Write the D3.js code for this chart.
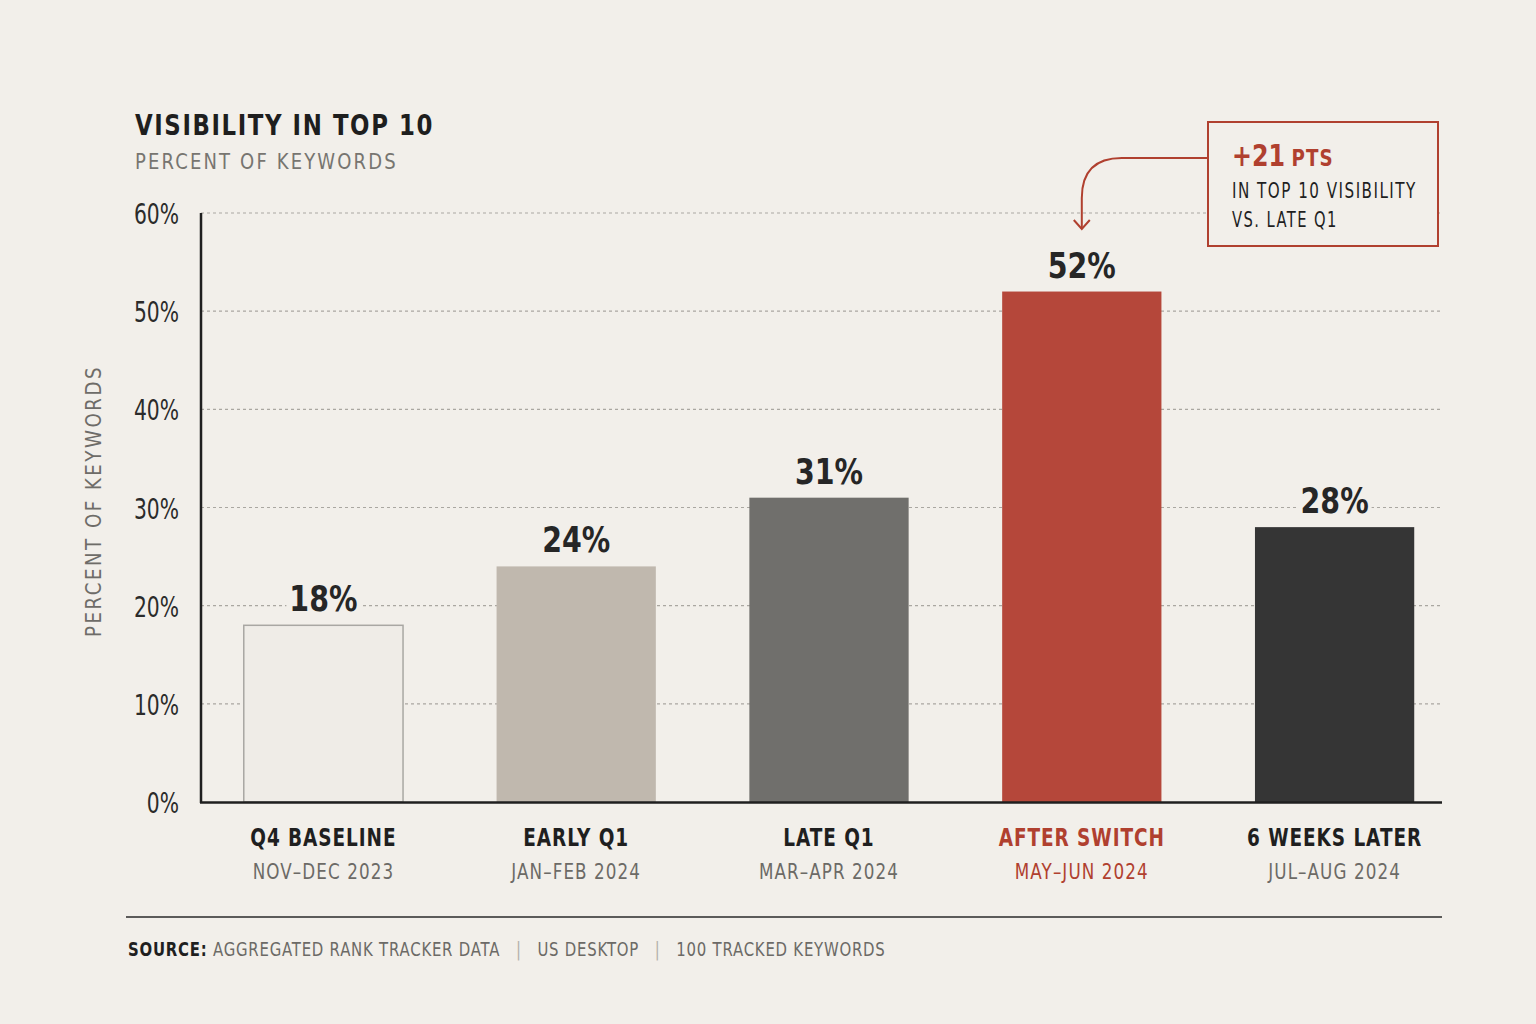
<!DOCTYPE html>
<html>
<head>
<meta charset="utf-8">
<script src="https://cdn.jsdelivr.net/npm/d3@7"></script>
<style>
  html, body { margin: 0; padding: 0; background: #f2efea; }
  svg { display: block; }
  text { font-family: "DejaVu Sans", sans-serif; }
</style>
</head>
<body>
<div id="chart"></div>
<script>
// data
let categories = ['Q4 BASELINE', 'EARLY Q1', 'LATE Q1', 'AFTER SWITCH', '6 WEEKS LATER']
let periods = ['NOV–DEC 2023', 'JAN–FEB 2024', 'MAR–APR 2024', 'MAY–JUN 2024', 'JUL–AUG 2024']
let values = [18, 24, 31, 52, 28]
let yTicks = [0, 10, 20, 30, 40, 50, 60]
let barColors = ['#efece7', '#c0b8ae', '#706f6c', '#b5473a', '#353535']
let highlight = 'AFTER SWITCH'

let bg = '#f2efea'
let red = '#b0402f'

// no condensed face is installed, so squeeze text horizontally
let squeeze = (sel, x, y, sx) => {
  sel.attr('x', 0).attr('y', 0)
    .attr('transform', `translate(${x},${y}) scale(${sx},1)`)
  return sel
}

// squeeze a single text so it spans a given width
let fitWidth = (sel, x, y, w) => {
  sel.attr('x', 0).attr('y', 0)
  let len = sel.node().getBBox().width
  return squeeze(sel, x, y, w / len)
}

let svg = d3.select('#chart')
  .append('svg')
  .attr('width', 1536)
  .attr('height', 1024)

svg.append('rect')
  .attr('width', 1536)
  .attr('height', 1024)
  .attr('fill', bg)

let x = d3.scaleBand()
  .domain(categories)
  .range([197, 1461])
  .paddingInner(0.37)
  .paddingOuter(0.185)

let y = d3.scaleLinear()
  .domain([0, 60])
  .range([802, 213])

// title
let title = svg.append('text')
  .attr('font-size', 29).attr('font-weight', 700)
  .attr('letter-spacing', 2)
  .attr('fill', '#1e1e1e')
  .text('VISIBILITY IN TOP 10')
fitWidth(title, 135, 135, 299)

let sub = svg.append('text')
  .attr('font-size', 21)
  .attr('letter-spacing', 2.5)
  .attr('fill', '#777570')
  .text('PERCENT OF KEYWORDS')
fitWidth(sub, 135, 169, 263)

// y axis title
let yTitle = svg.append('text')
  .attr('text-anchor', 'middle')
  .attr('font-size', 22)
  .attr('letter-spacing', 3)
  .attr('fill', '#6e6c68')
  .text('PERCENT OF KEYWORDS')
let yLen = yTitle.node().getBBox().width
yTitle.attr('transform', `translate(101,501) rotate(-90) scale(${272 / yLen},1)`)

// gridlines
svg.append('g')
  .selectAll('line')
  .data(yTicks.filter(d => d > 0))
  .enter()
  .append('line')
  .attr('x1', 201)
  .attr('x2', 1442)
  .attr('y1', d => y(d))
  .attr('y2', d => y(d))
  .attr('stroke', '#aaa7a1')
  .attr('stroke-width', 1.2)
  .attr('stroke-dasharray', '3,3')

// y tick labels
svg.append('g')
  .selectAll('text')
  .data(yTicks)
  .enter()
  .append('text')
  .attr('text-anchor', 'end')
  .attr('font-size', 29)
  .attr('fill', '#2b2b2b')
  .text(d => d + '%')
  .each(function (d) { squeeze(d3.select(this), 179, y(d) + 11, 0.7) })

// bars
svg.append('g')
  .selectAll('rect')
  .data(values)
  .enter()
  .append('rect')
  .attr('x', (d, i) => x(categories[i]))
  .attr('y', d => y(d))
  .attr('width', x.bandwidth())
  .attr('height', d => y(0) - y(d))
  .attr('fill', (d, i) => barColors[i])
  .attr('stroke', (d, i) => i === 0 ? '#a9a7a3' : 'none')
  .attr('stroke-width', 1.5)

// value labels with background knockout
let labels = svg.append('g')
  .selectAll('g')
  .data(values)
  .enter()
  .append('g')
  .attr('transform', (d, i) => `translate(${x(categories[i]) + x.bandwidth() / 2},${y(d) - 14})`)

labels.append('rect')
  .attr('x', -37).attr('y', -31)
  .attr('width', 74).attr('height', 36)
  .attr('fill', bg)

labels.append('text')
  .attr('text-anchor', 'middle')
  .attr('font-size', 36)
  .attr('font-weight', 700)
  .attr('fill', '#262626')
  .text(d => d + '%')
  .each(function () { squeeze(d3.select(this), 0, 0, 0.79) })

// axes lines
svg.append('line')
  .attr('x1', 201).attr('x2', 201)
  .attr('y1', 213).attr('y2', 803)
  .attr('stroke', '#1f1f1f').attr('stroke-width', 2.5)

svg.append('line')
  .attr('x1', 200).attr('x2', 1442)
  .attr('y1', 802.5).attr('y2', 802.5)
  .attr('stroke', '#1f1f1f').attr('stroke-width', 2.5)

// category labels
let cats = svg.append('g')
  .selectAll('g')
  .data(categories)
  .enter()
  .append('g')
  .attr('transform', d => `translate(${x(d) + x.bandwidth() / 2},0)`)

cats.append('text')
  .attr('text-anchor', 'middle')
  .attr('font-size', 24)
  .attr('font-weight', 700)
  .attr('letter-spacing', 1.2)
  .attr('fill', d => d === highlight ? red : '#1f1f1f')
  .text(d => d)
  .each(function () { squeeze(d3.select(this), 0, 846, 0.77) })

cats.append('text')
  .attr('text-anchor', 'middle')
  .attr('font-size', 21.5)
  .attr('letter-spacing', 1.4)
  .attr('fill', d => d === highlight ? red : '#6c6a66')
  .text((d, i) => periods[i])
  .each(function () { squeeze(d3.select(this), 0, 879, 0.78) })

// annotation
let hx = x(highlight) + x.bandwidth() / 2
let arrow = d3.path()
arrow.moveTo(1208, 158)
arrow.lineTo(hx + 40, 158)
arrow.quadraticCurveTo(hx, 158, hx, 198)
arrow.lineTo(hx, 229)
svg.append('path')
  .attr('d', arrow.toString())
  .attr('fill', 'none')
  .attr('stroke', red)
  .attr('stroke-width', 2)

svg.append('path')
  .attr('d', `M${hx - 8},${220} L${hx},${229} L${hx + 8},${220}`)
  .attr('fill', 'none')
  .attr('stroke', red)
  .attr('stroke-width', 2)

svg.append('rect')
  .attr('x', 1208).attr('y', 122)
  .attr('width', 230).attr('height', 124)
  .attr('fill', bg)
  .attr('stroke', red)
  .attr('stroke-width', 2)

let big = svg.append('text')
  .attr('fill', red)
  .attr('font-weight', 700)
big.append('tspan').attr('font-size', 30).text('+21')
big.append('tspan').attr('font-size', 23).attr('dx', 8).attr('letter-spacing', 1.5).text('PTS')
fitWidth(big, 1232, 166, 102)

let note1 = svg.append('text')
  .attr('font-size', 20.5)
  .attr('letter-spacing', 2)
  .attr('fill', '#1f1f1f')
  .text('IN TOP 10 VISIBILITY')
fitWidth(note1, 1232, 198, 185)

let note2 = svg.append('text')
  .attr('font-size', 20.5)
  .attr('letter-spacing', 2)
  .attr('fill', '#1f1f1f')
  .text('VS. LATE Q1')
fitWidth(note2, 1232, 227, 106)

// footer
svg.append('line')
  .attr('x1', 126).attr('x2', 1442)
  .attr('y1', 917).attr('y2', 917)
  .attr('stroke', '#2a2a2a').attr('stroke-width', 1.5)

let source = svg.append('text')
  .attr('font-size', 19)
  .attr('letter-spacing', 1)
  .attr('fill', '#6c6a66')
source.append('tspan').attr('font-weight', 700).attr('fill', '#1f1f1f').text('SOURCE:')
source.append('tspan').attr('dx', 7).text('AGGREGATED RANK TRACKER DATA')
source.append('tspan').attr('dx', 20).attr('fill', '#b3b0aa').text('|')
source.append('tspan').attr('dx', 20).text('US DESKTOP')
source.append('tspan').attr('dx', 20).attr('fill', '#b3b0aa').text('|')
source.append('tspan').attr('dx', 20).text('100 TRACKED KEYWORDS')
fitWidth(source, 128, 956, 758)
</script>
</body>
</html>
